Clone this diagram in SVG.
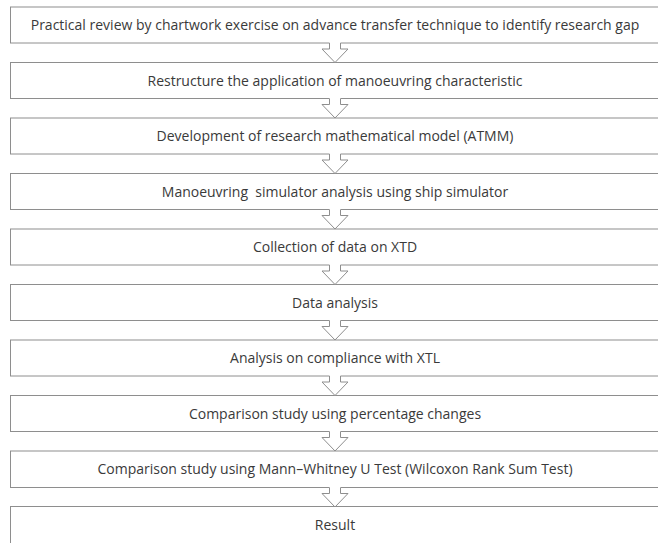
<svg xmlns="http://www.w3.org/2000/svg" width="658" height="543" viewBox="0 0 658 543">
<style>
.box{fill:#fff;stroke:#8e8e8e;stroke-width:1}
.lbl{font-family:"Open Sans","Liberation Sans",sans-serif;font-size:14px;fill:#3a3a3a;text-anchor:middle}
.arr{fill:#fff;stroke:#8e8e8e;stroke-width:1;stroke-linejoin:miter}
.gap{fill:#fff;stroke:none}
</style>
<defs>
<g id="downArrow">
<rect class="gap" x="329.5" y="-1" width="11" height="3"/>
<polyline class="arr" points="329.5,0 329.5,6 322,6 335,19.5 348,6 340.5,6 340.5,0"/>
</g>
</defs>
<rect width="658" height="543" fill="#fff"/>
<g id="n1"><rect class="box" x="10.5" y="7" width="660" height="36"/><text class="lbl" x="335" y="30">Practical review by chartwork exercise on advance transfer technique to identify research gap</text></g>
<g id="n2"><rect class="box" x="10.5" y="62.5" width="660" height="36"/><text class="lbl" x="335" y="85.5">Restructure the application of manoeuvring characteristic</text></g>
<g id="n3"><rect class="box" x="10.5" y="118" width="660" height="36"/><text class="lbl" x="335" y="141">Development of research mathematical model (ATMM)</text></g>
<g id="n4"><rect class="box" x="10.5" y="173.5" width="660" height="36"/><text class="lbl" x="335" y="196.5">Manoeuvring&#160; simulator analysis using ship simulator</text></g>
<g id="n5"><rect class="box" x="10.5" y="229" width="660" height="36"/><text class="lbl" x="335" y="252">Collection of data on XTD</text></g>
<g id="n6"><rect class="box" x="10.5" y="284.5" width="660" height="36"/><text class="lbl" x="335" y="307.5">Data analysis</text></g>
<g id="n7"><rect class="box" x="10.5" y="340" width="660" height="36"/><text class="lbl" x="335" y="363">Analysis on compliance with XTL</text></g>
<g id="n8"><rect class="box" x="10.5" y="395.5" width="660" height="36"/><text class="lbl" x="335" y="418.5">Comparison study using percentage changes</text></g>
<g id="n9"><rect class="box" x="10.5" y="451" width="660" height="36.5"/><text class="lbl" x="335" y="474">Comparison study using Mann–Whitney U Test (Wilcoxon Rank Sum Test)</text></g>
<g id="n10"><rect class="box" x="10.5" y="506.5" width="660" height="60"/><text class="lbl" x="335" y="529.5">Result</text></g>
<g id="connectors">
<use href="#downArrow" transform="translate(0,43)"/>
<use href="#downArrow" transform="translate(0,98.5)"/>
<use href="#downArrow" transform="translate(0,154)"/>
<use href="#downArrow" transform="translate(0,209.5)"/>
<use href="#downArrow" transform="translate(0,265)"/>
<use href="#downArrow" transform="translate(0,320.5)"/>
<use href="#downArrow" transform="translate(0,376)"/>
<use href="#downArrow" transform="translate(0,431.5)"/>
<use href="#downArrow" transform="translate(0,487.5)"/>
</g>
</svg>
